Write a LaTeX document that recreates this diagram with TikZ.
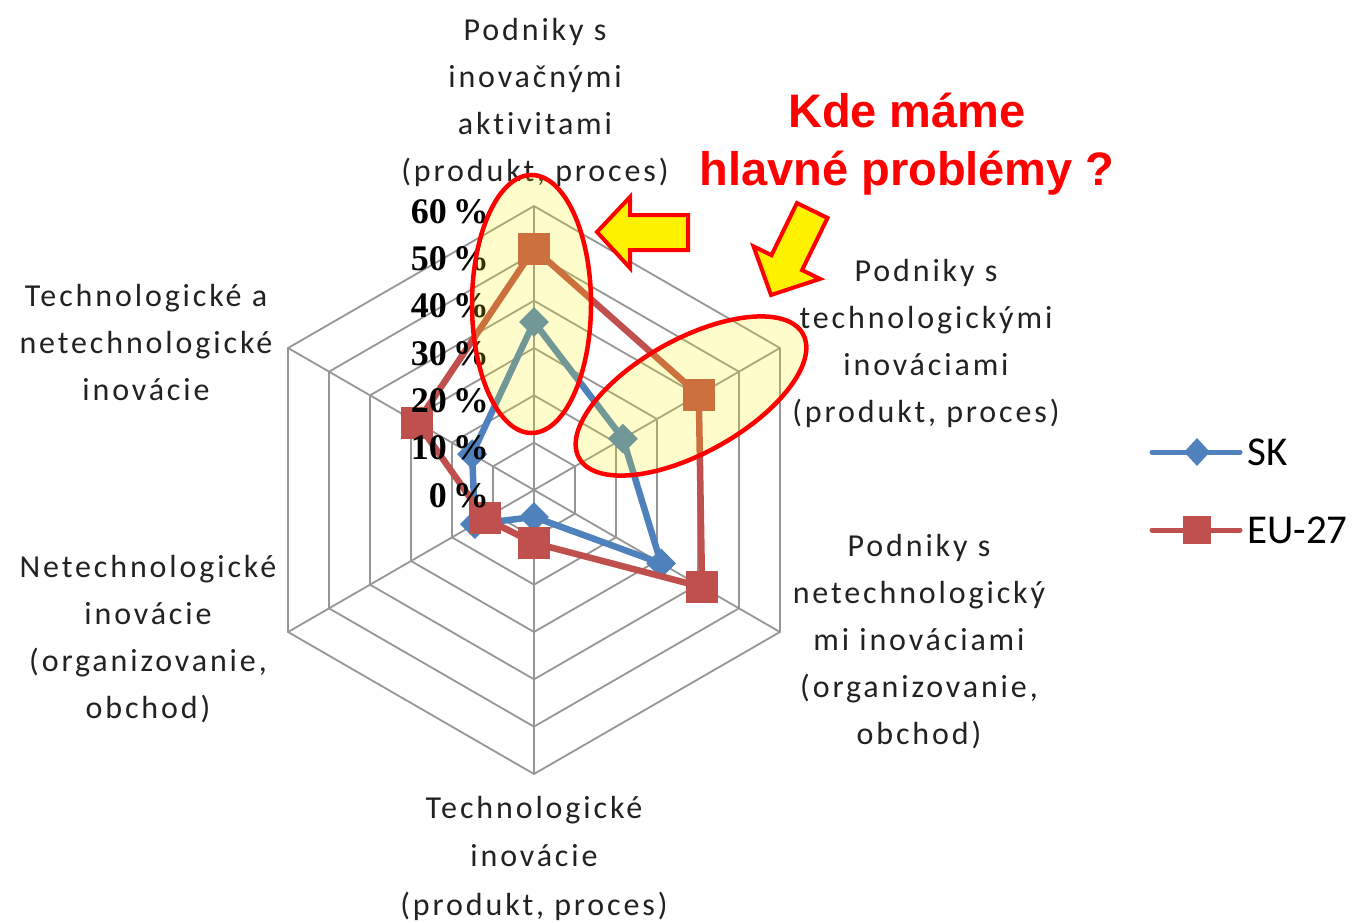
\documentclass[tikz,border=0pt]{standalone}
\usepackage{fontspec}
\setmainfont{Carlito}
\newfontfamily\serifnum{Liberation Serif}
\newfontfamily\arialb{Liberation Sans}
\newfontfamily\catfont{Carlito}[LetterSpace=9, Ligatures=NoCommon]
\usetikzlibrary{shapes.geometric}
\definecolor{skblue}{HTML}{4F81BD}
\definecolor{eured}{HTML}{C0504D}
\definecolor{gridc}{HTML}{969696}
\definecolor{txt}{HTML}{222222}
\begin{document}
\begin{tikzpicture}[x=1pt,y=-1pt,
  cat/.style={align=center, font=\catfont\fontsize{32}{47}\selectfont, text=txt, inner sep=0, anchor=base},
  pct/.style={font=\serifnum\bfseries\fontsize{36}{36}\selectfont, anchor=base east, inner sep=0},
  gridline/.style={draw=gridc, line width=1.8},
  skline/.style={draw=skblue, line width=6.5, line join=round},
  euline/.style={draw=eured, line width=6.5, line join=round},
  skmark/.style={diamond, fill=skblue, minimum width=30, minimum height=30, inner sep=0},
  eumark/.style={rectangle, fill=eured, minimum size=32, inner sep=0},
  hilite/.style={fill=yellow, fill opacity=0.2},
  ringline/.style={draw=red, line width=4.5},
  callout/.style={fill=yellow, draw=red, line width=4, line join=miter},
  legtext/.style={anchor=base west, font=\fontsize{41}{41}\selectfont, inner sep=0}
]
\useasboundingbox (0,0) rectangle (1354,923);

% radar grid and data
\begin{scope}[shift={(534,490)}, y=1pt]
  \foreach \k in {1,...,6} {
    \draw[gridline] (90:{\k*47.33}) -- (30:{\k*47.33}) -- (-30:{\k*47.33}) -- (-90:{\k*47.33}) -- (-150:{\k*47.33}) -- (150:{\k*47.33}) -- cycle;
  }
  \coordinate (c0) at (0,0);
  \foreach \a/\n in {90/a1,30/a2,-30/a3,-90/a4,-150/a5,150/a6} {
    \coordinate (\n) at (\a:284);
    \draw[gridline] (c0) -- (\n);
  }
  % SK
  \coordinate (s1) at (90:{35.5*4.733});
  \coordinate (s2) at (30:{21.7*4.733});
  \coordinate (s3) at (-30:{31*4.733});
  \coordinate (s4) at (-90:{5.7*4.733});
  \coordinate (s5) at (-150:{14.4*4.733});
  \coordinate (s6) at (150:{15.1*4.733});
  % EU-27
  \coordinate (e1) at (90:{51*4.733});
  \coordinate (e2) at (30:{40.2*4.733});
  \coordinate (e3) at (-30:{41*4.733});
  \coordinate (e4) at (-90:{11.2*4.733});
  \coordinate (e5) at (-150:{12*4.733});
  \coordinate (e6) at (150:{28.5*4.733});
\end{scope}

\draw[skline] (s1) -- (s2) -- (s3) -- (s4) -- (s5) -- (s6) -- cycle;
\foreach \p in {1,...,6} \node[skmark] (ms\p) at (s\p) {};
\draw[euline] (e1) -- (e2) -- (e3) -- (e4) -- (e5) -- (e6) -- cycle;
\foreach \p in {1,...,6} \node[eumark] (me\p) at (e\p) {};

% percentage labels
\foreach \k/\t in {0/0,1/10,2/20,3/30,4/40,5/50,6/60}
  \node[pct] (pct\k) at (489,{507-\k*47.33}) {\t\,\%};

% category labels (anchor = baseline of last line)
\node[cat] (cat1) at (535,181) {Podniky s\\inovačnými\\aktivitami\\(produkt, proces)};
\node[cat] (cat2) at (926,422) {Podniky s\\technologickými\\inováciami\\(produkt, proces)};
\node[cat] (cat3) at (919,744) {Podniky s\\netechnologický\\mi inováciami\\(organizovanie,\\obchod)};
\node[cat] (cat4) at (534,915) {Technologické\\[1.5pt]inovácie\\[1.5pt](produkt, proces)};
\node[cat] (cat5) at (148,718) {Netechnologické\\inovácie\\(organizovanie,\\obchod)};
\node[cat] (cat6) at (146,400) {Technologické a\\netechnologické\\inovácie};

% highlight ellipses
\fill[hilite] (531.5,304) ellipse [x radius=59.5, y radius=129];
\fill[hilite, rotate around={29:(691,396)}] (691,396) ellipse [x radius=128, y radius=57];
\draw[ringline] (531.5,304) ellipse [x radius=59.5, y radius=129];
\draw[ringline, rotate around={29:(691,396)}] (691,396) ellipse [x radius=128, y radius=57];

% callout arrows
\draw[callout] (597,232) -- (630,197) -- (630,215) -- (688,215) -- (688,250) -- (630,250) -- (630,268) -- cycle;
\begin{scope}[shift={(771,295)}, rotate=-116]
  \draw[callout] (0,0) -- (-36,37) -- (-36,17) -- (-94,17) -- (-94,-17) -- (-36,-17) -- (-36,-37) -- cycle;
\end{scope}

% title
\node[font=\arialb\bfseries\fontsize{47}{58}\selectfont, text=red, align=center, anchor=base, inner sep=0] (title) at (907,185) {Kde máme\\hlavné problémy ?};

% legend
\coordinate (lska) at (1152,452);
\coordinate (lskb) at (1240,452);
\draw[skblue, line width=5, line cap=round] (lska) -- (lskb);
\node[skmark, minimum width=26, minimum height=28] (lskm) at (1197,452) {};
\node[legtext] (lskt) at (1247,465) {SK};
\coordinate (leua) at (1152,530);
\coordinate (leub) at (1240,530);
\draw[eured, line width=5, line cap=round] (leua) -- (leub);
\node[eumark, minimum size=28] (leum) at (1197,530) {};
\node[legtext] (leut) at (1247,543) {EU-27};
\end{tikzpicture}
\end{document}
